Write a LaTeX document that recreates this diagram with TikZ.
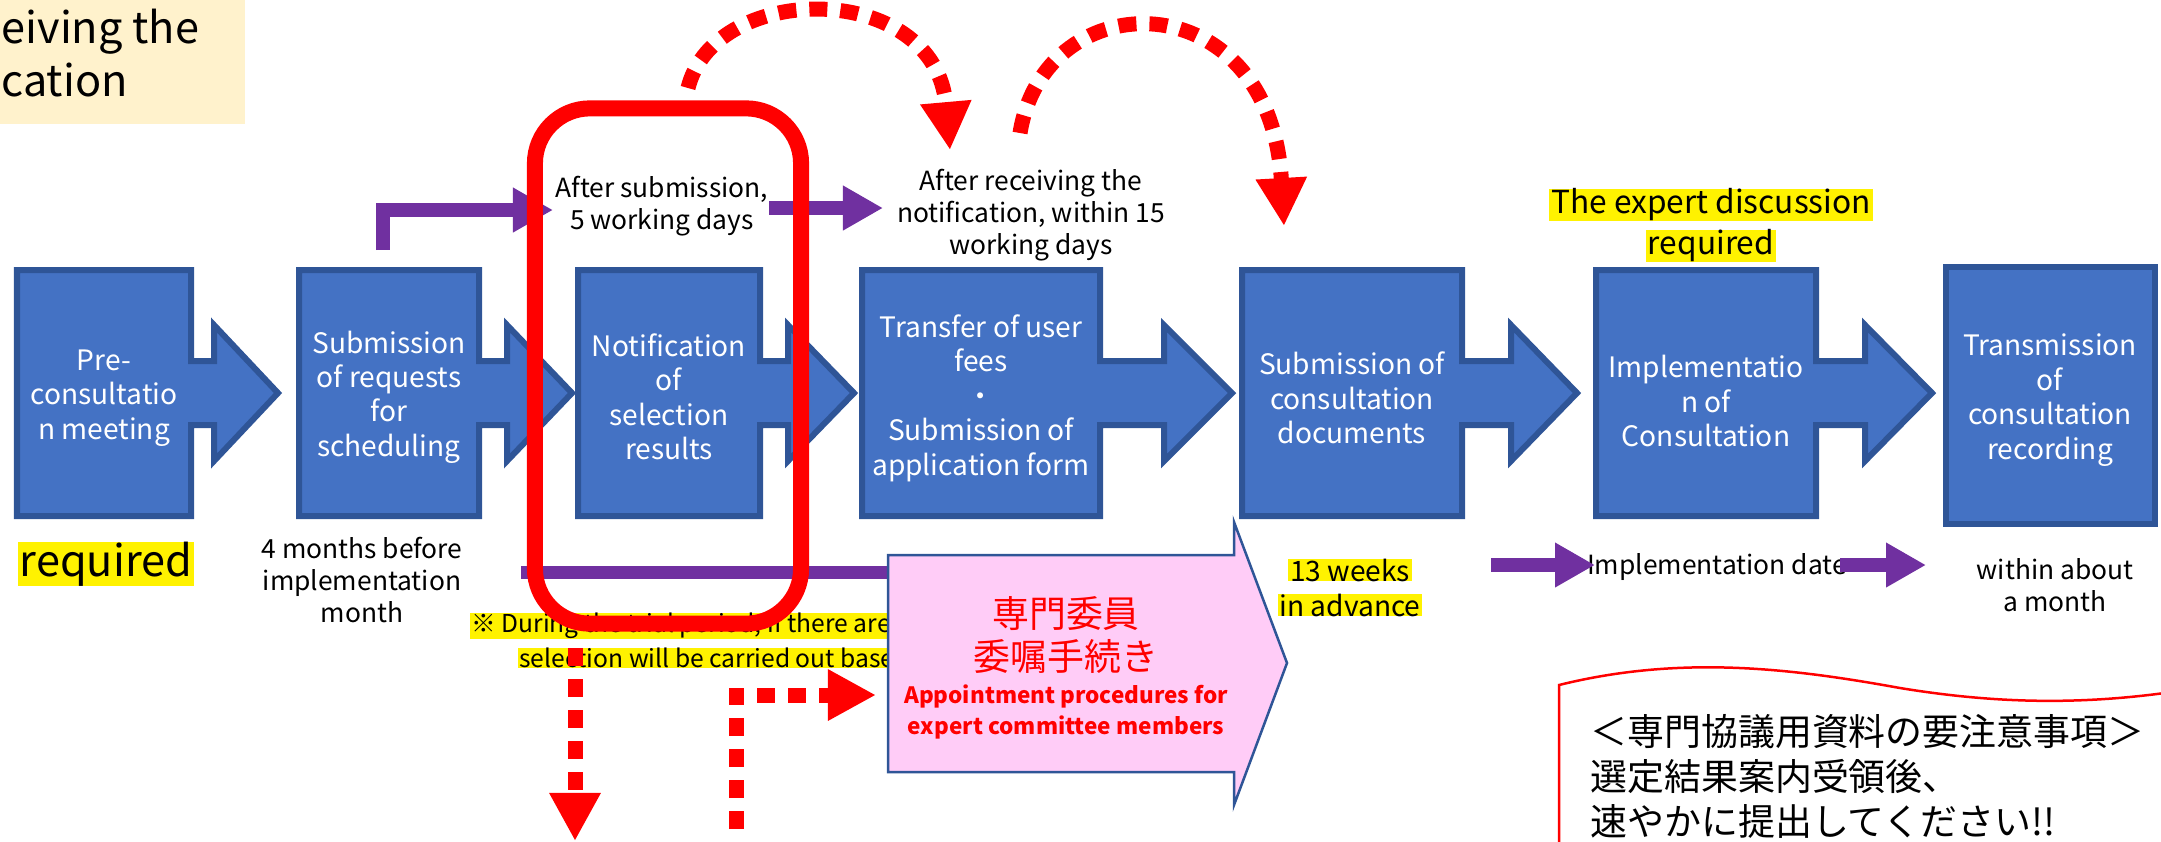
\documentclass[tikz,border=0pt]{standalone}
\usepackage{fontspec}
\setmainfont{Noto Sans CJK JP}
\usetikzlibrary{arrows.meta}
\definecolor{boxblue}{HTML}{4472C4}
\definecolor{boxline}{HTML}{2F5597}
\definecolor{flowpurple}{HTML}{7030A0}
\definecolor{notepink}{HTML}{FFCCF7}
\definecolor{cream}{HTML}{FFF2CC}
\begin{document}
\begin{tikzpicture}[x=0.01cm,y=-0.01cm,
    stepshape/.style={fill=boxblue,draw=boxline,line width=0.06cm},
    steptext/.style={text=white,align=center,font=\fontsize{8}{9.8}\selectfont},
    timing/.style={align=center,font=\fontsize{7.5}{9.2}\selectfont},
    hilite/.style={fill=yellow,inner xsep=0.5pt,inner ysep=0pt},
    flow/.style={draw=flowpurple,line width=0.14cm,-{Triangle[length=0.4cm,width=0.42cm]}},
    hop/.style={draw=red,line width=0.15cm,dash pattern=on 0.18cm off 0.13cm,
      -{Triangle[length=0.48cm,width=0.48cm]}}]
  \useasboundingbox (0,0) rectangle (2161,841);
  \clip (0,0) rectangle (2161,841);
  % cut-off note, top left
  \fill[cream] (0,0) rectangle (245,124);
  \node[anchor=west,inner sep=0pt,font=\fontsize{12.3}{15}\selectfont] (recvA) at (1,32) {eiving the};
  \node[anchor=west,inner sep=0pt,font=\fontsize{12.3}{15}\selectfont] (recvB) at (1,80) {cation};
  % steps
  \draw[stepshape] (17,270) -- (191,270) -- (191,361) -- (214,361) -- (214,325) -- (278,393)
    -- (214,461) -- (214,425) -- (191,425) -- (191,516) -- (17,516) -- cycle;
  \draw[stepshape] (299,270) -- (479,270) -- (479,361) -- (507,361) -- (507,325) -- (572,393)
    -- (507,461) -- (507,425) -- (479,425) -- (479,516) -- (299,516) -- cycle;
  \draw[stepshape] (578,270) -- (760,270) -- (760,361) -- (788,361) -- (788,325) -- (854,393)
    -- (788,461) -- (788,425) -- (760,425) -- (760,516) -- (578,516) -- cycle;
  \draw[stepshape] (862,270) -- (1100,270) -- (1100,361) -- (1164,361) -- (1164,325) -- (1232,393)
    -- (1164,461) -- (1164,425) -- (1100,425) -- (1100,516) -- (862,516) -- cycle;
  \draw[stepshape] (1242,270) -- (1462,270) -- (1462,361) -- (1511,361) -- (1511,325) -- (1577,393)
    -- (1511,461) -- (1511,425) -- (1462,425) -- (1462,516) -- (1242,516) -- cycle;
  \draw[stepshape] (1596,270) -- (1816,270) -- (1816,361) -- (1865,361) -- (1865,325) -- (1932,393)
    -- (1865,461) -- (1865,425) -- (1816,425) -- (1816,516) -- (1596,516) -- cycle;
  \draw[stepshape] (1946,267) rectangle (2155,524);
  \node[steptext] (pre) at (104,398) {Pre-\\consultatio\\n meeting};
  \node[steptext] (sched) at (389,397) {Submission\\of requests\\for\\scheduling};
  \node[steptext] (notif) at (669,397) {Notification\\of\\selection\\results};
  \node[steptext] (fees) at (981,398) {Transfer of user\\fees\\・\\Submission of\\application form};
  \node[steptext] (docs) at (1352,398) {Submission of\\consultation\\documents};
  \node[steptext] (impl) at (1706,401) {Implementatio\\n of\\Consultation};
  \node[steptext] (record) at (2050,400) {Transmission\\of\\consultation\\recording};
  % timing texts
  \node[timing] (afterSub) at (662,206) {After submission,\\5 working days};
  \node[timing] (afterNotif) at (1031,215) {After receiving the\\notification, within 15\\working days};
  \node[timing] (before) at (362,580) {4 months before\\implementation\\month};
  \node[timing] (implDate) at (1717,567) {Implementation date};
  \node[timing] (within) at (2055,585) {within about\\a month};
  \node[hilite,font=\fontsize{9}{11}\selectfont] (expertA) at (1711,205) {The expert discussion};
  \node[hilite,font=\fontsize{9}{11}\selectfont] (expertB) at (1711,246) {required};
  \node[hilite,font=\fontsize{12.3}{15}\selectfont] (req) at (106,564) {required};
  \node[hilite,font=\fontsize{8}{9.6}\selectfont] (weeksA) at (1350,570) {13 weeks};
  \node[hilite,font=\fontsize{8}{9.6}\selectfont] (weeksB) at (1350,605) {in advance};
  \node[hilite,anchor=west,font=\fontsize{7}{8.4}\selectfont] (trialA) at (469,626) {※ During the trial period, if there are};
  \node[hilite,anchor=west,font=\fontsize{7}{8.4}\selectfont] (trialB) at (517,658) {selection will be carried out based};
  % purple arrows
  \coordinate (schedUp) at (383,250);
  \coordinate (schedTip) at (553,210);
  \coordinate (waitStart) at (769,208);
  \coordinate (waitTip) at (883,208);
  \draw[flow] (schedUp) |- (schedTip);
  \draw[flow] (waitStart) -- (waitTip);
  \draw[draw=flowpurple,line width=0.13cm] (521,572) -- (900,572);
  \coordinate (dateIn) at (1491,565);
  \coordinate (dateInTip) at (1595,565);
  \coordinate (dateOut) at (1840,565);
  \coordinate (dateOutTip) at (1926,565);
  \draw[flow] (dateIn) -- (dateInTip);
  \draw[flow] (dateOut) -- (dateOutTip);
  % red dashed jumps
  \coordinate (hopA) at (688,88);
  \coordinate (hopAend) at (950,150);
  \coordinate (hopB) at (1020,133);
  \coordinate (hopBend) at (1284,226);
  \coordinate (dropA) at (575,648);
  \coordinate (dropAend) at (575,841);
  \coordinate (dropB) at (736,860);
  \coordinate (dropBend) at (876,695);
  \draw[hop] (hopA) .. controls (715,-20) and (935,-20) .. (hopAend);
  \draw[hop] (hopB) .. controls (1045,-20) and (1270,-20) .. (hopBend);
  \draw[hop] (dropA) -- (dropAend);
  \draw[hop] (dropB) |- (dropBend);
  % highlighted step
  \node[draw=red,line width=0.16cm,rounded corners=0.55cm,minimum width=2.66cm,
    minimum height=5.15cm] (focus) at (668,366) {};
  % appointment arrow
  \draw[fill=notepink,draw=boxline,line width=0.025cm] (888,555) -- (1234,555) -- (1234,522)
    -- (1287,663) -- (1234,805) -- (1234,772) -- (888,772) -- cycle;
  \node[text=red,align=center,font=\fontsize{10.5}{12.5}\selectfont] (appointJa) at (1066,635) {専門委員\\委嘱手続き};
  \node[text=red,align=center,font=\bfseries\fontsize{6.4}{8.8}\selectfont] (appointEn) at (1066,712)
    {Appointment procedures for\\expert committee members};
  % caution note
  \draw[red,fill=white,line width=0.025cm] (1559,900) -- (1559,685)
    .. controls (1680,655) and (1790,668) .. (1900,688)
    .. controls (2010,706) and (2110,706) .. (2230,682) -- (2230,900) -- cycle;
  \node[anchor=west,align=left,font=\fontsize{10.5}{12.8}\selectfont] (caution) at (1578,776)
    {＜専門協議用資料の要注意事項＞\\選定結果案内受領後、\\速やかに提出してください!!};
\end{tikzpicture}
\end{document}
